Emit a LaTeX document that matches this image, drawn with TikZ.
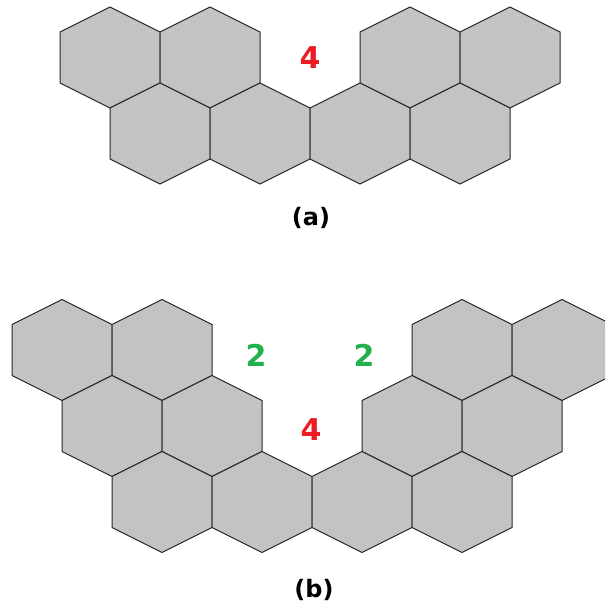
\documentclass[tikz,border=0pt]{standalone}
\usepackage{fontspec}
\setmainfont{DejaVu Sans}
\definecolor{cellgray}{RGB}{195,195,195}
\definecolor{celledge}{RGB}{40,40,40}
\definecolor{markred}{RGB}{237,28,36}
\definecolor{markgreen}{RGB}{34,177,76}
\tikzset{
  x=1pt, y=-1pt,
  hexcell/.pic={
    \filldraw[fill=cellgray, draw=celledge, line width=1pt, line join=miter]
      (0,-50.5) -- (50,-25.5) -- (50,25.5) -- (0,50.5) -- (-50,25.5) -- (-50,-25.5) -- cycle;
  },
  redmark/.style={text=markred, font=\bfseries\fontsize{30}{30}\selectfont, inner sep=0pt},
  greenmark/.style={text=markgreen, font=\bfseries\fontsize{30}{30}\selectfont, inner sep=0pt},
  caption/.style={text=black, font=\bfseries\fontsize{24}{24}\selectfont, inner sep=0pt}
}
\begin{document}
\begin{tikzpicture}
\useasboundingbox (0,0) rectangle (605,610);
\clip (0,0) rectangle (605,610);

% (a): two rows of cells
\foreach \cx in {110,210,410,510} \pic at (\cx,57.5) {hexcell};
\foreach \cx in {160,260,360,460} \pic at (\cx,133.5) {hexcell};
\node[redmark] (a4) at (310,58) {4};
\node[caption] (acap) at (311,218) {(a)};

% (b): three rows of cells
\foreach \cx in {62,162,462,562} \pic at (\cx,350) {hexcell};
\foreach \cx in {112,212,412,512} \pic at (\cx,426) {hexcell};
\foreach \cx in {162,262,362,462} \pic at (\cx,502) {hexcell};
\node[greenmark] (b2l) at (256,355) {2};
\node[greenmark] (b2r) at (364,355) {2};
\node[redmark] (b4) at (311,430) {4};
\node[caption] (bcap) at (314,590) {(b)};
\end{tikzpicture}
\end{document}
